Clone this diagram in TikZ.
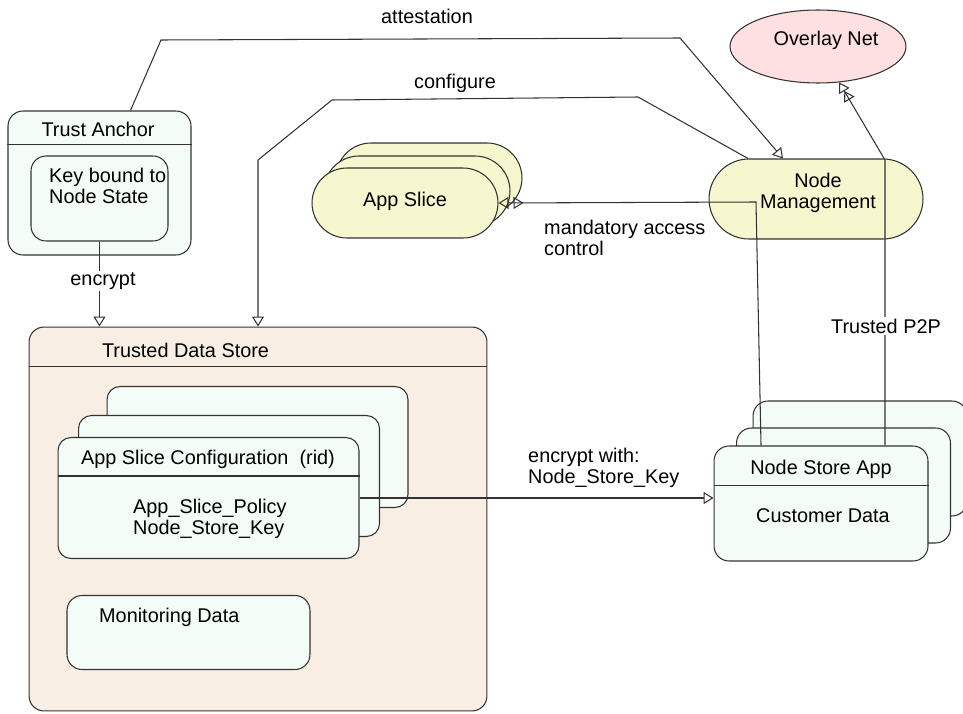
\documentclass[tikz,border=0pt]{standalone}
\usepackage{fontspec}
\setmainfont{Liberation Sans}
\usetikzlibrary{arrows.meta, positioning, shapes.geometric}
\definecolor{edge}{RGB}{51,51,51}
\definecolor{mint}{RGB}{243,252,247}
\definecolor{slicefill}{RGB}{247,247,207}
\definecolor{peach}{RGB}{249,238,228}
\definecolor{pink}{RGB}{255,224,224}
\begin{document}
\begin{tikzpicture}[x=0.02cm, y=-0.02cm,
    every node/.style={font=\fontsize{11.3}{12.2}\selectfont},
    card/.style={draw=edge, line width=0.6pt, fill=mint, rounded corners=0.3cm, inner sep=0pt},
    slicecard/.style={draw=edge, line width=0.6pt, fill=slicefill, rounded corners=0.7cm, minimum width=3.72cm, minimum height=1.4cm, inner sep=0pt},
    conn/.style={draw=edge, line width=0.6pt, -{Triangle[open, length=0.2cm, width=0.24cm]}},
    mac/.style={draw=edge, line width=0.6pt, -{Triangle[open, reversed, length=0.2cm, width=0.24cm, sep=0.1cm] Triangle[open, length=0.2cm, width=0.24cm]}},
    p2p/.style={draw=edge, line width=0.6pt, -{Triangle[open, length=0.2cm, width=0.24cm] Triangle[open, length=0.2cm, width=0.24cm]}},
    lbl/.style={fill=white, inner sep=1pt}]
    \useasboundingbox (0, 0) rectangle (963, 713);
    % trust anchor
    \node [card, minimum width=3.66cm, minimum height=2.88cm] (ta) at (99.5, 183) {};
    \draw [edge, line width=0.6pt] ([yshift=-0.68cm]ta.north west) -- ([yshift=-0.68cm]ta.north east);
    \node (tatitle) at (98, 129) {Trust Anchor};
    \node [card, minimum width=2.74cm, minimum height=1.7cm] (key) at (99.5, 198.5) {};
    \node [anchor=west, align=left] (keytext) at (43, 186) {Key bound to\\Node State};
    % app slice
    \node [slicecard] (sliceback) at (429, 178) {};
    \node [slicecard] (slicemid) at (417, 191) {};
    \node [slicecard] (slice) at (405, 203) {};
    \node (slicetext) at (405, 201) {App Slice};
    % node management and overlay
    \node [draw=edge, line width=0.6pt, fill=slicefill, rounded corners=0.8cm, minimum width=4.28cm, minimum height=1.6cm, inner sep=0pt] (nm) at (816, 199) {};
    \node [align=center] (nmtext) at (818, 193) {Node\\Management};
    \node [ellipse, draw=edge, line width=0.6pt, fill=pink, minimum width=3.52cm, minimum height=1.46cm, inner sep=0pt] (on) at (818, 46.5) {};
    \node (ontext) at (826, 40) {Overlay Net};
    % trusted data store
    \node [draw=edge, line width=0.6pt, fill=peach, rounded corners=0.3cm, minimum width=9.16cm, minimum height=7.68cm, inner sep=0pt] (tds) at (258, 519) {};
    \draw [edge, line width=0.6pt] ([yshift=-0.8cm]tds.north west) -- ([yshift=-0.8cm]tds.north east);
    \node (tdstitle) at (185.5, 350) {Trusted Data Store};
    \node [card, rounded corners=0.26cm, minimum width=6.02cm, minimum height=2.42cm] (cfgback) at (257.5, 447) {};
    \node [card, rounded corners=0.26cm, minimum width=6.02cm, minimum height=2.42cm] (cfgmid) at (229, 476) {};
    \node [card, rounded corners=0.26cm, minimum width=6.02cm, minimum height=2.42cm] (cfg) at (208.5, 498) {};
    \draw [edge, line width=0.6pt] ([yshift=-0.78cm]cfg.north west) -- ([yshift=-0.78cm]cfg.north east);
    \node (cfgtitle) at (208, 459) {App Slice Configuration\ \ (rid)};
    \node [anchor=west, align=left] (cfgtext) at (127, 519) {App\_Slice\_Policy\\Node\_Store\_Key};
    \node [card, rounded corners=0.3cm, minimum width=4.86cm, minimum height=1.48cm] (mon) at (188.5, 632.5) {};
    \node [anchor=west] (montext) at (93, 617) {Monitoring Data};
    % node store app
    \node [card, minimum width=4.28cm, minimum height=2.3cm] (nsaback) at (860, 458.5) {};
    \node [card, minimum width=4.28cm, minimum height=2.3cm] (nsamid) at (843.5, 485.5) {};
    \node [card, minimum width=4.28cm, minimum height=2.3cm] (nsa) at (821, 503.5) {};
    \draw [edge, line width=0.6pt] ([yshift=-0.8cm]nsa.north west) -- ([yshift=-0.8cm]nsa.north east);
    \node (nsatitle) at (821, 469) {Node Store App};
    \node [anchor=west] (nsatext) at (750, 516) {Customer Data};
    % connectors
    \draw [conn] (key.south) -- (key.south |- tds.north);
    \node [lbl] (enclbl) at (103, 281) {encrypt};
    \draw [conn] ([xshift=0.62cm]ta.north) -- (161, 40) -- (680, 38) -- ([xshift=-0.66cm]nm.north);
    \node (attlbl) at (427, 16) {attestation};
    \draw [conn] ([xshift=-1.36cm]nm.north) -- (638, 97) -- (332, 100) -- (258, 160) -- (tds.north);
    \node (conflbl) at (455, 83) {configure};
    \draw [mac] ([xshift=-1.2cm]nsa.north) -- (756, 202) -- (slice.east);
    \node [anchor=west, align=left] (maclbl) at (538, 238) {mandatory access\\control};
    \draw [p2p] ([xshift=1.28cm]nsa.north) -- (885, 160) -- (on);
    \node [lbl] (p2plbl) at (886, 326) {Trusted P2P};
    \draw [conn] (cfg.east) -- (cfg.east -| nsa.west);
    \node [anchor=west, align=left] (keylbl) at (522, 468) {encrypt with:\\Node\_Store\_Key};
\end{tikzpicture}
\end{document}
